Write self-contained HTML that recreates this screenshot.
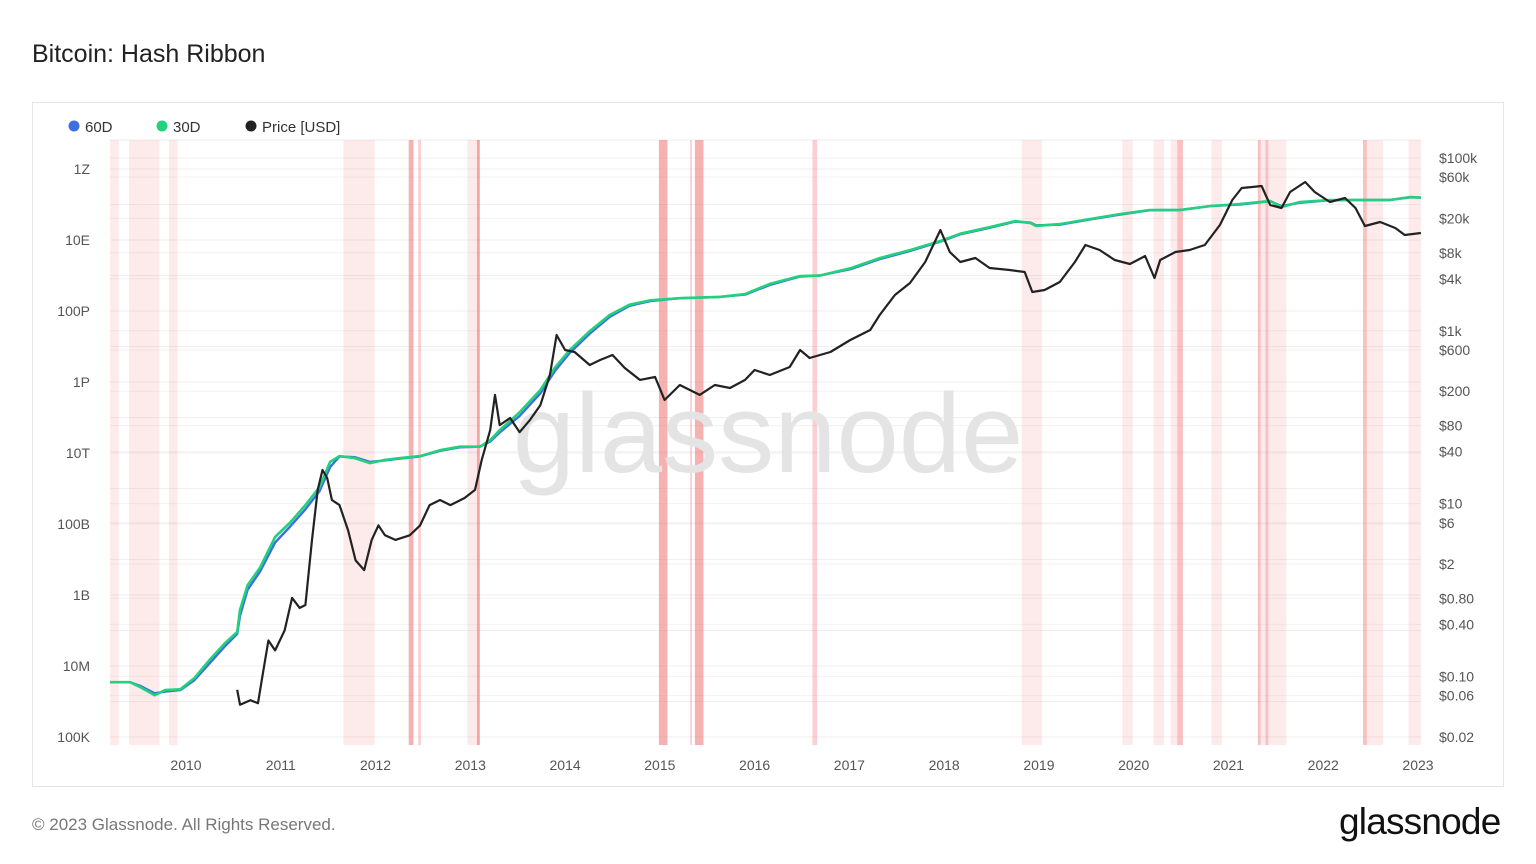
<!DOCTYPE html>
<html><head><meta charset="utf-8"><style>
body{margin:0;width:1536px;height:864px;background:#fff;font-family:"Liberation Sans",sans-serif;overflow:hidden}
</style></head><body>
<div style="position:absolute;left:32px;top:40px;font-size:25px;color:#222">Bitcoin: Hash Ribbon</div>
<div style="position:absolute;left:32px;top:102px;width:1470px;height:683px;border:1px solid #e6e6e6"></div>
<svg id="chart" width="1536" height="864" style="position:absolute;left:0;top:0" font-family="Liberation Sans, sans-serif"></svg>
<div style="position:absolute;left:32px;top:815px;font-size:17px;color:#777">© 2023 Glassnode. All Rights Reserved.</div>
<div style="position:absolute;left:1339px;top:801px;font-size:37px;color:#111;letter-spacing:-0.8px">glassnode</div>
<script>
const hashDates=[2009.20,2009.41,2009.51,2009.67,2009.78,2009.94,2010.09,2010.25,2010.41,2010.54,2010.57,2010.65,2010.78,2010.94,2011.10,2011.26,2011.41,2011.52,2011.62,2011.78,2011.94,2012.10,2012.26,2012.47,2012.68,2012.89,2013.10,2013.21,2013.31,2013.52,2013.74,2013.89,2014.05,2014.26,2014.47,2014.68,2014.90,2015.21,2015.63,2015.90,2016.16,2016.48,2016.69,2017.01,2017.32,2017.64,2017.96,2018.17,2018.48,2018.75,2018.91,2018.97,2019.22,2019.54,2019.86,2020.17,2020.49,2020.81,2021.12,2021.44,2021.56,2021.75,2022.07,2022.39,2022.70,2022.92,2023.03];
const hash30=[3.5e6,3.5e6,2.6e6,1.5e6,2.1e6,2.2e6,4.6e6,1.5e7,4.4e7,9.1e7,3.8e8,1.9e9,5.8e9,4.3e10,1.1e11,3.4e11,1.1e12,5.6e12,8.2e12,7.2e12,5.2e12,6.4e12,7.2e12,8.2e12,1.2e13,1.5e13,1.5e13,2.3e13,4.4e13,1.4e14,6.0e14,2.5e15,8.0e15,2.7e16,7.7e16,1.5e17,2.0e17,2.3e17,2.5e17,3.0e17,5.8e17,9.7e17,1.0e18,1.6e18,3.1e18,5.2e18,9.4e18,1.5e19,2.3e19,3.4e19,3.0e19,2.5e19,2.8e19,3.9e19,5.4e19,7.0e19,7.0e19,9.1e19,1.03e20,1.26e20,8.5e19,1.17e20,1.34e20,1.34e20,1.34e20,1.63e20,1.55e20];
const hash60=[3.5e6,3.5e6,2.8e6,1.7e6,1.9e6,2.1e6,4.0e6,1.2e7,3.6e7,8.0e7,2.6e8,1.4e9,4.5e9,3.0e10,8.5e10,2.6e11,8.5e11,4.0e12,8.0e12,7.6e12,5.6e12,6.2e12,7.0e12,8.0e12,1.15e13,1.45e13,1.5e13,2.1e13,3.8e13,1.1e14,4.8e14,2.0e15,6.6e15,2.3e16,6.8e16,1.4e17,1.9e17,2.3e17,2.5e17,2.9e17,5.4e17,9.4e17,1.0e18,1.5e18,2.9e18,4.9e18,9.0e18,1.45e19,2.2e19,3.3e19,3.1e19,2.6e19,2.7e19,3.8e19,5.2e19,6.9e19,7.0e19,9.0e19,1.0e20,1.24e20,9.0e19,1.12e20,1.32e20,1.34e20,1.34e20,1.6e20,1.56e20];
const priceDates=[2010.54,2010.57,2010.68,2010.76,2010.80,2010.87,2010.94,2011.04,2011.12,2011.20,2011.26,2011.33,2011.39,2011.44,2011.49,2011.54,2011.62,2011.71,2011.79,2011.88,2011.96,2012.03,2012.10,2012.21,2012.36,2012.47,2012.57,2012.68,2012.79,2012.94,2013.05,2013.12,2013.21,2013.26,2013.31,2013.42,2013.52,2013.63,2013.74,2013.84,2013.91,2014.00,2014.10,2014.26,2014.37,2014.50,2014.63,2014.79,2014.95,2015.05,2015.21,2015.42,2015.58,2015.74,2015.90,2016.00,2016.16,2016.37,2016.48,2016.58,2016.80,2017.01,2017.22,2017.32,2017.48,2017.64,2017.80,2017.96,2018.06,2018.17,2018.33,2018.48,2018.69,2018.85,2018.93,2019.06,2019.22,2019.38,2019.49,2019.64,2019.80,2019.96,2020.12,2020.22,2020.28,2020.44,2020.59,2020.75,2020.91,2021.04,2021.14,2021.25,2021.35,2021.44,2021.56,2021.65,2021.81,2021.91,2022.07,2022.23,2022.34,2022.44,2022.60,2022.76,2022.86,2023.03];
const priceUsd=[0.07,0.047,0.053,0.049,0.091,0.26,0.20,0.34,0.81,0.62,0.67,3.8,14.4,24.5,19.8,11.0,9.6,4.9,2.2,1.7,3.8,5.6,4.3,3.8,4.3,5.6,9.6,11.0,9.6,11.6,14.4,32,71,181,81,98,67,93,138,308,893,600,569,402,459,525,371,270,292,158,236,181,236,218,270,352,308,381,600,484,569,783,1021,1524,2595,3573,6252,14690,8166,6252,6966,5333,5058,4797,2812,2965,3672,6252,9840,8610,6590,5929,7345,4083,6590,8166,8610,9840,16790,32650,44980,46130,47420,28560,26360,40360,52750,40360,30970,34410,26360,16330,18160,15490,12840,13550];
const bandStarts=[2009.20,2009.40,2009.82,2011.66,2012.35,2012.45,2012.97,2013.07,2014.99,2015.32,2015.37,2016.61,2018.82,2019.88,2020.21,2020.39,2020.46,2020.82,2021.31,2021.31,2021.39,2022.42,2022.42,2022.90];
const bandEnds=[2009.29,2009.72,2009.91,2011.99,2012.40,2012.48,2013.10,2013.10,2015.08,2015.34,2015.46,2016.66,2019.03,2019.99,2020.32,2020.52,2020.52,2020.93,2021.61,2021.34,2021.42,2022.63,2022.46,2023.03];
const bandLevels=[1,1,1,1,3,2,1,3,3,2,3,2,1,1,1,1,2,1,1,2,2,1,2,1];
const leftTicks=["1Z","10E","100P","1P","10T","100B","1B","10M","100K"];
const leftTickVals=[1e21,1e19,1e17,1e15,1e13,1e11,1e9,1e7,1e5];
const rightTicks=["$100k","$60k","$20k","$8k","$4k","$1k","$600","$200","$80","$40","$10","$6","$2","$0.80","$0.40","$0.10","$0.06","$0.02"];
const rightTickVals=[100000,60000,20000,8000,4000,1000,600,200,80,40,10,6,2,0.8,0.4,0.1,0.06,0.02];
const yearTicks=[2010,2011,2012,2013,2014,2015,2016,2017,2018,2019,2020,2021,2022,2023];

const NS="http://www.w3.org/2000/svg";
const svg=document.getElementById('chart');
const PL=110,PR=1421,PT=140,PB=745;
const xS=t=>186+(t-2010)*94.77;
const yL=v=>737-(Math.log10(v)-5)*35.5;
const yR=v=>158+(5-Math.log10(v))*86.4;
function mk(tag,attrs){const e=document.createElementNS(NS,tag);for(const k in attrs)e.setAttribute(k,attrs[k]);svg.appendChild(e);return e;}

for(let d=5;d<=21;d++){const g=mk('line',{x1:PL,x2:PR,y1:yL(Math.pow(10,d)),y2:yL(Math.pow(10,d)),stroke:'#efefef','stroke-width':1});

}
rightTickVals.forEach(v=>{const g=mk('line',{x1:PL,x2:PR,y1:yR(v),y2:yR(v),stroke:'#f2f2f2','stroke-width':1});

});
mk('line',{x1:PL,x2:PR,y1:PT,y2:PT,stroke:'#ececec','stroke-width':1});

const bandColors=['','rgba(245,150,150,0.2)','rgba(240,120,120,0.35)','rgba(238,100,100,0.5)'];
bandStarts.forEach((s,i)=>{const x1=xS(s),x2=xS(bandEnds[i]);
const r=mk('rect',{x:x1,y:PT,width:Math.max(1.5,x2-x1),height:PB-PT,fill:bandColors[bandLevels[i]]});

});

const wm=mk('text',{x:768,y:472,'text-anchor':'middle','font-size':112,fill:'#e4e4e4'});
wm.textContent='glassnode';



function path(xs,ys,fy){return xs.map((t,i)=>(i?'L':'M')+xS(t).toFixed(1)+','+fy(ys[i]).toFixed(1)).join(' ');}
const p60=mk('path',{d:path(hashDates,hash60,yL),fill:'none',stroke:'#3d6fe0','stroke-width':2.4,'stroke-linejoin':'round'});


const p30=mk('path',{d:path(hashDates,hash30,yL),fill:'none',stroke:'#22d07d','stroke-width':2.6,'stroke-linejoin':'round'});


const pp=mk('path',{d:path(priceDates,priceUsd,yR),fill:'none',stroke:'#222','stroke-width':2.2,'stroke-linejoin':'round'});



leftTicks.forEach((l,i)=>{const t=mk('text',{x:90,y:yL(leftTickVals[i])+5,'text-anchor':'end','font-size':14,fill:'#555'});t.textContent=l;

});
rightTicks.forEach((l,i)=>{const t=mk('text',{x:1439,y:yR(rightTickVals[i])+5,'font-size':14,fill:'#555'});t.textContent=l;

});
yearTicks.forEach(y=>{const t=mk('text',{x:xS(y),y:770,'text-anchor':'middle','font-size':14,fill:'#555'});t.textContent=y;

});

const leg=[['60D','#3d6fe0',68],['30D','#22d07d',156],['Price [USD]','#222',245]];
leg.forEach(l=>{const c=mk('circle',{cx:l[2]+6,cy:126,r:5.5,fill:l[1]});


const t=mk('text',{x:l[2]+17,y:132,'font-size':15,fill:'#333'});t.textContent=l[0];

});
</script>
</body></html>
